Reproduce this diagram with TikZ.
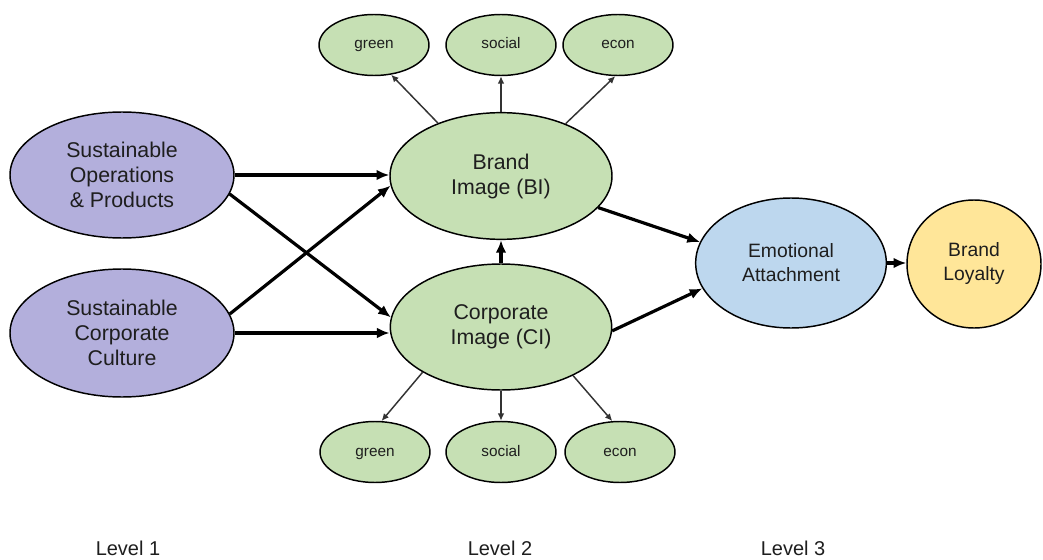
\documentclass[tikz,border=0pt]{standalone}
\usepackage{fontspec}
\setmainfont{Liberation Sans}
\usetikzlibrary{shapes.geometric,arrows.meta}

\definecolor{lavender}{HTML}{B3AFDC}
\definecolor{leaf}{HTML}{C6E0B4}
\definecolor{sky}{HTML}{BDD7EE}
\definecolor{butter}{HTML}{FFE699}
\definecolor{ink}{HTML}{1E1E1E}
\definecolor{thinline}{HTML}{333333}

\tikzset{
  oval/.style={ellipse, draw=black, line width=1.1pt, inner sep=0pt,
    align=center, text=ink},
  construct/.style={oval, font=\fontsize{16}{18.75}\selectfont},
  outcome/.style={oval, font=\fontsize{14.5}{18}\selectfont},
  facet/.style={oval, fill=leaf, minimum width=82.5pt, minimum height=45.75pt,
    text height=8.5pt, text depth=2.5pt,
    font=\fontsize{11.5}{14}\selectfont},
  strong/.style={line width=2.4pt, -{Latex[length=9.5pt,width=8pt]}},
  weak/.style={line width=1.1pt, draw=thinline, -{Latex[length=5.5pt,width=5pt]}},
  levellabel/.style={font=\fontsize{15}{18}\selectfont, text=ink}
}

\begin{document}
\begin{tikzpicture}[x=0.75pt, y=-0.75pt]
\useasboundingbox (0,0) rectangle (1043,560);

% Level 1 constructs
\node[construct, fill=lavender, minimum width=168pt, minimum height=94.5pt]
  (sop) at (122,175) {Sustainable\\Operations\\\& Products};
\node[construct, fill=lavender, minimum width=168pt, minimum height=96pt]
  (scc) at (122,333) {Sustainable\\Corporate\\Culture};

% Level 2 constructs
\node[construct, fill=leaf, minimum width=166.5pt, minimum height=95pt]
  (bi) at (501,176) {Brand\\Image (BI)};
\node[construct, fill=leaf, minimum width=166pt, minimum height=94.5pt]
  (ci) at (501,327) {Corporate\\Image (CI)};

% Facets of brand image
\node[facet] (tg) at (374,45) {green};
\node[facet] (ts) at (501,45) {social};
\node[facet] (te) at (618,45) {econ};

% Facets of corporate image
\node[facet] (bg) at (375,452) {green};
\node[facet] (bs) at (501,452) {social};
\node[facet] (be) at (620,452) {econ};

% Level 3 constructs
\node[outcome, fill=sky, minimum width=143pt, minimum height=97.5pt]
  (ea) at (791,263) {Emotional\\Attachment};
\node[outcome, fill=butter, minimum width=100.5pt, minimum height=96pt]
  (bl) at (974,264) {Brand\\Loyalty};

% Level labels
\node[levellabel] (l1) at (128,548) {Level 1};
\node[levellabel] (l2) at (500,548) {Level 2};
\node[levellabel] (l3) at (793,548) {Level 3};

% Structural paths
\draw[strong] (sop.east) -- (sop.east -| bi.west);
\draw[strong] (sop.-10.5) -- (ci.175);
\draw[strong] (scc.10.5) -- (bi.185);
\draw[strong] (scc.east) -- (scc.east -| ci.west);
\draw[strong] (ci.north) -- (bi.south);
\draw[strong] (bi.-18) -- (ea.167);
\draw[strong] (ci.-2) -- (ea.196.5);
\draw[strong] (ea.east) -- (ea.east -| bl.west);

% Measurement paths
\draw[weak] (bi.140) -- (tg.-60);
\draw[weak] (bi.north) -- (ts.south);
\draw[weak] (bi.39) -- (te.-95);
\draw[weak] (ci.210) -- (bg.78);
\draw[weak] (ci.south) -- (bs.north);
\draw[weak] (ci.-34) -- (be.104);
\end{tikzpicture}
\end{document}
